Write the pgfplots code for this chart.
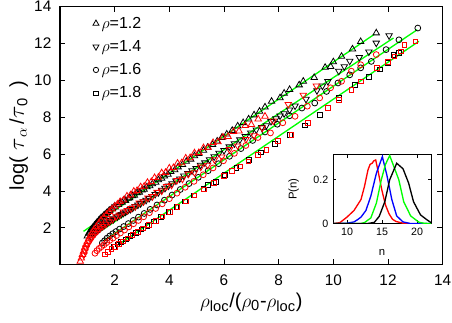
\documentclass[border=0pt]{standalone}
\usepackage{fontspec}
\setmainfont{Liberation Sans}
\usepackage{pgfplots}
\pgfplotsset{compat=1.18}
\pgfplotsset{/pgf/number format/assume math mode=true}
\pgfplotsset{shortlegend/.style={legend image code/.code={%
    \draw[mark repeat=2,mark phase=2,##1] plot coordinates {(0cm,0cm)(0.15cm,0cm)(0.38cm,0cm)};}}}
\newcommand{\sub}[1]{\mbox{\fontsize{11}{12}\selectfont #1}}
\newcommand{\bigtau}{{\fontsize{18}{19}\selectfont$\tau$}}

\begin{document}
\begin{tikzpicture}
\begin{axis}[
    name=main,
    scale only axis,
    width=287pt, height=193.5pt,
    xmin=0, xmax=14, ymin=0, ymax=14,
    xtick={2,4,...,14}, ytick={2,4,...,14},
    tick align=inside,
    major tick length=4pt,
    axis line style={line width=0.9pt},
    tick style={line width=0.6pt, black},
    ticklabel style={font=\fontsize{11.5}{13}\selectfont},
    xticklabel style={yshift=-4pt},
    yticklabel style={xshift=-3pt},
    label style={font=\fontsize{15}{17}\selectfont},
    xlabel={$\rho_{\sub{loc}}$/($\rho_{\sub{0}}$-$\rho_{\sub{loc}}$)},
    ylabel={log(\,\,\bigtau$_{\sub{$\alpha$}}$\,/\bigtau$_{\sub{0}}$\,\,\,)},
    xlabel style={at={(axis description cs:0.5,-0.145)}, anchor=center},
    ylabel style={at={(axis description cs:-0.108,0.5)}, anchor=center, rotate=0},
    legend style={draw=none, fill=none, at={(0.075,0.982)}, anchor=north west,
        font=\fontsize{12}{13}\selectfont, row sep=3.6pt},
    legend cell align=left,
]
\addlegendimage{only marks, mark=triangle, mark size=2.6pt, black, line width=0.6pt, shortlegend}
\addlegendentry{$\rho$=1.2}
\addlegendimage{only marks, mark=triangle, mark size=2.6pt, mark options={rotate=180}, black, line width=0.6pt, shortlegend}
\addlegendentry{$\rho$=1.4}
\addlegendimage{only marks, mark=o, mark size=2pt, black, line width=0.6pt, shortlegend}
\addlegendentry{$\rho$=1.6}
\addlegendimage{only marks, mark=square, mark size=1.6pt, black, line width=0.6pt, shortlegend}
\addlegendentry{$\rho$=1.8}

% rho = 1.2, triangles up
\addplot[only marks, mark=triangle, mark size=2.8pt, black, line width=0.6pt, forget plot] coordinates {
(1.0,1.55)(1.08,1.72)(1.15,1.9)(1.22,2.02)(1.3,2.18)(1.38,2.3)(1.46,2.45)(1.55,2.58)(1.64,2.7)
(1.73,2.82)(1.82,2.92)(1.92,3.03)(2.02,3.12)(2.14,3.26)(2.27,3.38)(2.4,3.47)(2.55,3.62)(2.72,3.76)
(2.9,3.93)(3.08,4.08)(3.28,4.28)(3.5,4.47)(3.72,4.68)(3.95,4.9)(4.2,5.14)(4.48,5.43)(4.78,5.72)
(5.08,6.02)(5.4,6.36)(5.75,6.7)(6.1,7.08)(6.5,7.52)(6.9,7.9)(7.3,8.32)(7.74,8.86)(8.05,9.05)
(8.4,9.5)(8.75,9.75)(9.3,10.15)(9.7,10.7)(10.0,11.0)(10.3,11.3)(10.7,11.7)(11.0,12.1)(11.57,12.57)
};
\addplot[only marks, mark=triangle, mark size=2.8pt, black, line width=0.6pt, forget plot] coordinates {
(1.05,1.7)(1.12,1.86)(1.19,2.0)(1.26,2.13)(1.34,2.27)(1.42,2.4)(1.5,2.53)(1.6,2.66)(1.7,2.8)
(1.8,2.94)(1.9,3.06)(2.0,3.18)(2.2,3.35)(2.35,3.52)(2.5,3.6)(2.65,3.74)(2.82,3.9)(3.0,4.05)
(3.18,4.22)(3.38,4.38)(3.6,4.6)(3.82,4.8)(4.05,5.05)(4.32,5.3)(4.62,5.6)(4.92,5.9)(5.25,6.2)
(5.58,6.52)(5.92,6.9)(6.3,7.28)(6.7,7.7)(7.1,8.12)(7.5,8.55)(8.2,9.3)(8.9,9.95)(9.9,10.75)
};
% rho = 1.4, triangles down
\addplot[only marks, mark=triangle, mark size=2.8pt, mark options={rotate=180}, black, line width=0.6pt, forget plot] coordinates {
(1.15,1.48)(1.22,1.62)(1.3,1.76)(1.38,1.88)(1.46,1.98)(1.55,2.08)(1.64,2.18)(1.74,2.28)(1.85,2.4)
(1.97,2.5)(2.1,2.6)(2.24,2.73)(2.4,2.86)(2.57,3.0)(2.75,3.16)(2.95,3.32)(3.15,3.5)(3.37,3.7)
(3.6,3.92)(3.84,4.15)(4.1,4.4)(4.38,4.66)(4.68,4.95)(4.98,5.22)(5.3,5.53)(5.64,5.86)(6.0,6.2)
(6.38,6.57)(6.78,6.96)(7.18,7.32)(7.55,7.55)(7.9,7.92)(8.2,8.2)(8.6,8.62)(9.0,8.98)(9.4,9.45)
(9.8,9.95)(10.2,10.5)(10.6,11.05)(10.95,11.25)(11.3,11.55)(11.57,12.03)(12.04,12.43)
};
\addplot[only marks, mark=triangle, mark size=2.8pt, mark options={rotate=180}, black, line width=0.6pt, forget plot] coordinates {
(1.2,1.58)(1.28,1.72)(1.36,1.84)(1.44,1.95)(1.52,2.05)(1.62,2.15)(1.72,2.25)(1.83,2.36)(1.95,2.46)
(2.17,2.68)(2.32,2.8)(2.48,2.94)(2.66,3.08)(2.85,3.24)(3.05,3.42)(3.26,3.6)(3.48,3.82)(3.72,4.05)
(3.97,4.28)(4.24,4.55)(4.53,4.82)(4.83,5.1)(5.14,5.4)(5.47,5.7)(5.82,6.05)(6.19,6.4)(6.58,6.78)
(6.98,7.15)(7.38,7.45)(7.72,7.78)(8.05,8.08)(8.4,8.4)(9.6,9.7)(10.4,10.75)
};
% rho = 1.6, circles
\addplot[only marks, mark=o, mark size=2.2pt, black, line width=0.6pt, forget plot] coordinates {
(1.55,1.18)(1.63,1.3)(1.72,1.44)(1.82,1.56)(1.93,1.68)(2.05,1.8)(2.18,1.93)(2.33,2.07)(2.5,2.23)
(2.68,2.4)(2.87,2.58)(3.08,2.78)(3.3,3.0)(3.55,3.24)(3.82,3.5)(4.1,3.78)(4.4,4.08)(4.72,4.4)
(5.06,4.74)(5.42,5.1)(5.8,5.48)(6.2,5.88)(6.62,6.3)(7.05,6.74)(7.5,7.2)(7.95,7.62)(8.4,8.08)
(8.85,8.5)(9.32,8.77)(9.75,9.4)(10.17,9.86)(10.6,10.3)(11.0,10.68)(11.39,11.03)(11.93,11.67)
(12.4,12.2)(13.09,12.84)
};
% rho = 1.8, squares
\addplot[only marks, mark=square, mark size=1.75pt, black, line width=0.6pt, forget plot] coordinates {
(1.98,0.98)(2.1,1.1)(2.24,1.24)(2.4,1.38)(2.58,1.55)(2.77,1.72)(2.98,1.92)(3.2,2.12)(3.44,2.35)
(3.7,2.6)(3.97,2.86)(4.26,3.14)(4.57,3.44)(4.9,3.76)(5.25,4.1)(5.42,4.34)(5.7,4.5)(6.03,4.88)
(6.45,5.25)(6.9,5.7)(7.35,6.1)(7.85,6.55)(8.4,7.05)(8.95,7.55)(9.5,8.14)(10.2,9.05)(10.8,9.77)
(11.3,10.2)(11.7,10.6)(12.0,10.95)(12.2,11.4)(12.4,11.5)
};

% red sets
\addplot[only marks, mark=triangle, mark size=2.8pt, red, line width=0.6pt, forget plot] coordinates {
(0.74,0.18)(0.78,0.35)(0.82,0.55)(0.86,0.72)(0.9,0.9)(0.95,1.08)(1.0,1.25)(1.05,1.4)(1.11,1.58)
(1.18,1.75)(1.25,1.92)(1.33,2.07)(1.42,2.25)(1.5,2.42)(1.6,2.58)(1.7,2.72)(1.8,2.88)(1.9,3.02)
(2.0,3.16)(2.1,3.28)(2.2,3.42)(2.32,3.5)(2.45,3.72)(2.58,3.78)(2.7,3.98)(2.82,4.02)(2.95,4.22)
(3.08,4.25)(3.2,4.46)(3.34,4.5)(3.46,4.72)(3.6,4.74)(3.72,4.98)(3.86,5.0)(4.0,5.24)(4.15,5.26)
(4.3,5.5)(4.45,5.52)(4.6,5.78)(4.76,5.8)(4.92,6.06)(5.08,6.08)(5.25,6.34)(5.42,6.36)(5.6,6.62)
(5.78,6.66)(5.96,6.92)(6.15,6.95)(6.35,7.22)(6.55,7.25)(6.78,7.55)(7.0,7.6)(7.25,7.9)(7.5,8.05)
};
\addplot[only marks, mark=triangle, mark size=2.8pt, mark options={rotate=180}, red, line width=0.6pt, forget plot] coordinates {
(0.88,0.55)(0.92,0.75)(0.96,0.92)(1.01,1.08)(1.07,1.24)(1.14,1.4)(1.21,1.55)(1.29,1.7)(1.38,1.84)
(1.47,1.97)(1.57,2.08)(1.68,2.2)(1.8,2.33)(1.92,2.45)(2.05,2.6)(2.18,2.7)(2.32,2.87)(2.46,2.95)
(2.6,3.05)(2.75,3.15)(2.9,3.35)(3.05,3.42)(3.22,3.62)(3.38,3.7)(3.55,3.93)(3.72,4.0)(3.9,4.25)
(4.08,4.32)(4.28,4.58)(4.48,4.65)(4.7,4.92)(4.92,5.0)(5.15,5.3)(5.4,5.4)(5.65,5.7)(5.92,5.85)
(6.2,6.25)(6.5,6.45)(6.8,6.8)(7.1,7.0)(7.4,7.42)(7.8,7.8)(8.35,8.7)(8.9,9.2)(9.38,9.7)
};
\addplot[only marks, mark=o, mark size=2.2pt, red, line width=0.6pt, forget plot] coordinates {
(1.28,0.62)(1.35,0.76)(1.43,0.88)(1.52,0.98)(1.61,1.08)(1.71,1.2)(1.82,1.32)(1.94,1.44)(2.07,1.58)
(2.21,1.72)(2.36,1.88)(2.52,2.05)(2.69,2.22)(2.87,2.4)(3.06,2.6)(3.27,2.82)(3.5,3.05)(3.74,3.3)
(4.0,3.58)(4.28,3.88)(4.58,4.2)(4.9,4.52)(5.24,4.88)(5.6,5.25)(5.98,5.64)(6.38,6.04)(6.8,6.47)
(7.24,6.9)(7.7,7.15)(8.15,7.7)(8.6,8.05)(9.05,8.6)(9.5,9.05)(9.9,9.6)(10.3,9.95)(10.66,10.5)
(11.0,10.85)(11.57,11.4)
};
\addplot[only marks, mark=square, mark size=1.75pt, red, line width=0.6pt, forget plot] coordinates {
(1.65,0.55)(1.76,0.7)(1.88,0.84)(2.01,0.98)(2.15,1.12)(2.3,1.27)(2.47,1.43)(2.65,1.6)(2.84,1.78)
(3.04,1.96)(3.26,2.16)(3.5,2.38)(3.75,2.62)(4.02,2.88)(4.3,3.15)(4.6,3.44)(4.92,3.75)(5.26,4.08)
(5.62,4.44)(6.0,4.82)(6.3,5.1)(6.58,5.33)(6.89,5.6)(7.25,5.97)(7.55,6.24)(7.98,6.7)(8.47,7.05)
(9.07,7.7)(9.8,8.5)(10.2,8.95)(10.66,9.5)(11.0,9.95)(11.6,10.67)(12.0,11.0)(12.24,11.3)
(12.48,11.57)(12.6,11.94)(13.0,12.12)
};

% linear fits
\addplot[green, line width=1pt, forget plot] coordinates {(0.86,1.81) (11.5,12.5)};
\addplot[green, line width=1pt, forget plot] coordinates {(1.17,1.52) (12.2,12.3)};
\addplot[green, line width=1pt, forget plot] coordinates {(1.6,1.3) (13.07,12.75)};
\addplot[green, line width=1pt, forget plot] coordinates {(2.08,1.03) (13.13,12.12)};
\end{axis}

\begin{axis}[
    at={(main.south west)}, anchor=south west,
    xshift=204.75pt, yshift=30.75pt,
    scale only axis,
    width=73.5pt, height=51.75pt,
    xmin=8, xmax=22, ymin=0, ymax=0.314,
    xtick={10,15,20}, ytick={0,0.2},
    tick align=inside,
    major tick length=2.5pt,
    axis line style={line width=0.7pt},
    tick style={line width=0.5pt, black},
    axis background/.style={fill=white},
    ticklabel style={font=\fontsize{8}{9}\selectfont},
    label style={font=\fontsize{8.5}{9}\selectfont},
    xlabel={n}, ylabel={P(n)},
    xlabel shift=3pt, ylabel shift=4pt,
]
\addplot[red, line width=1pt] coordinates {
(8,0)(9,0.005)(10,0.03)(11,0.06)(12,0.11)(12.5,0.17)(13,0.245)(13.3,0.27)(13.6,0.275)
(13.8,0.285)(14.1,0.29)(14.4,0.245)(15,0.15)(15.5,0.085)(16,0.045)(16.5,0.02)(17,0.01)
(18,0.002)(19,0)(22,0)
};
\addplot[blue, line width=1pt] coordinates {
(8,0)(10,0.002)(11,0.008)(11.5,0.018)(12,0.03)(12.7,0.06)(13.4,0.125)(14.2,0.23)(15.05,0.305)
(15.7,0.22)(16.4,0.11)(17.1,0.035)(18,0.008)(19,0.001)(22,0)
};
\addplot[green, line width=1pt] coordinates {
(8,0)(12,0.001)(12.5,0.005)(13.4,0.026)(14.2,0.094)(14.9,0.2)(15.5,0.27)(16.1,0.31)(17.4,0.2)
(18.1,0.1)(19.1,0.035)(20.3,0.006)(21,0.002)(22,0)
};
\addplot[black, line width=1pt] coordinates {
(8,0)(13,0.001)(13.9,0.006)(14.6,0.033)(15.4,0.1)(16.1,0.2)(17.1,0.275)(18,0.25)(18.8,0.185)
(19.5,0.1)(20.5,0.04)(21.4,0.018)(22,0.005)
};
\end{axis}

\pgfresetboundingbox
\path (main.south west) ++(-45pt,-43pt) rectangle ++(339pt,241.5pt);
\end{tikzpicture}
\end{document}
